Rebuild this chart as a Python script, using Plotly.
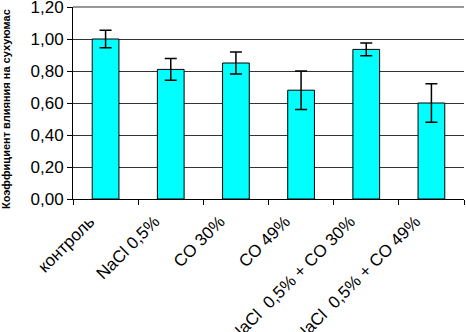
import plotly.graph_objects as go

categories = ["контроль", "NaCl 0,5%", "CO 30%", "CO 49%", "NaCl  0,5% + CO 30%", "NaCl  0,5% + CO 49%"]
values = [1.00, 0.81, 0.85, 0.68, 0.935, 0.60]
errors = [0.055, 0.068, 0.068, 0.12, 0.04, 0.12]
y_ticks = [0, 0.2, 0.4, 0.6, 0.8, 1.0, 1.2]
y_title = "Коэффициент влияния на сухуюмас"

fig = go.Figure()
fig.add_trace(go.Bar(
    x=categories, y=values,
    marker=dict(color="#00FFFF", line=dict(color="#000000", width=1)),
    error_y=dict(type="data", array=errors, visible=True, color="#000000", thickness=1.5, width=6),
    width=0.41,
))

fig.update_layout(
    width=466, height=332,
    margin=dict(l=73, r=2, t=7, b=133, autoexpand=False),
    plot_bgcolor="white", paper_bgcolor="white",
    separators=",.",
    showlegend=False,
    font=dict(family="Arial, Liberation Sans, sans-serif", size=17, color="#000000"),
)
fig.update_xaxes(
    tickangle=-45, showline=True, linecolor="#000000", linewidth=1,
    ticks="outside", ticklen=5, tickcolor="#000000", tickson="boundaries",
    showgrid=False, tickfont=dict(size=17), automargin=False,
    ticklabelshift=-16, ticklabelstandoff=5, ticklabeloverflow="allow",
)
fig.update_yaxes(
    range=[0, y_ticks[-1]], tickvals=y_ticks, tickformat=".2f",
    showline=True, linecolor="#000000", linewidth=1,
    ticks="outside", ticklen=5, tickcolor="#000000",
    showgrid=True, gridcolor="#333333", gridwidth=1,
    tickfont=dict(size=17), zeroline=False, automargin=False,
    ticklabeloverflow="allow",
)
# top gridline at the last y tick (top edge of the plot area)
fig.add_shape(type="line", xref="paper", yref="paper", x0=0, x1=1, y0=1, y1=1,
              line=dict(color="#333333", width=1), layer="above")
fig.add_annotation(
    text="<b>" + y_title + "</b>", textangle=-90, xref="paper", yref="paper",
    x=(6 - 73) / 391, y=(199 - 211) / 192, xanchor="center", yanchor="bottom", showarrow=False,
    font=dict(size=11, family="Arial, Liberation Sans, sans-serif", color="#000000"),
)
fig.write_html("out.html", config={"displayModeBar": False},
               post_script="document.body.style.margin='0';")
